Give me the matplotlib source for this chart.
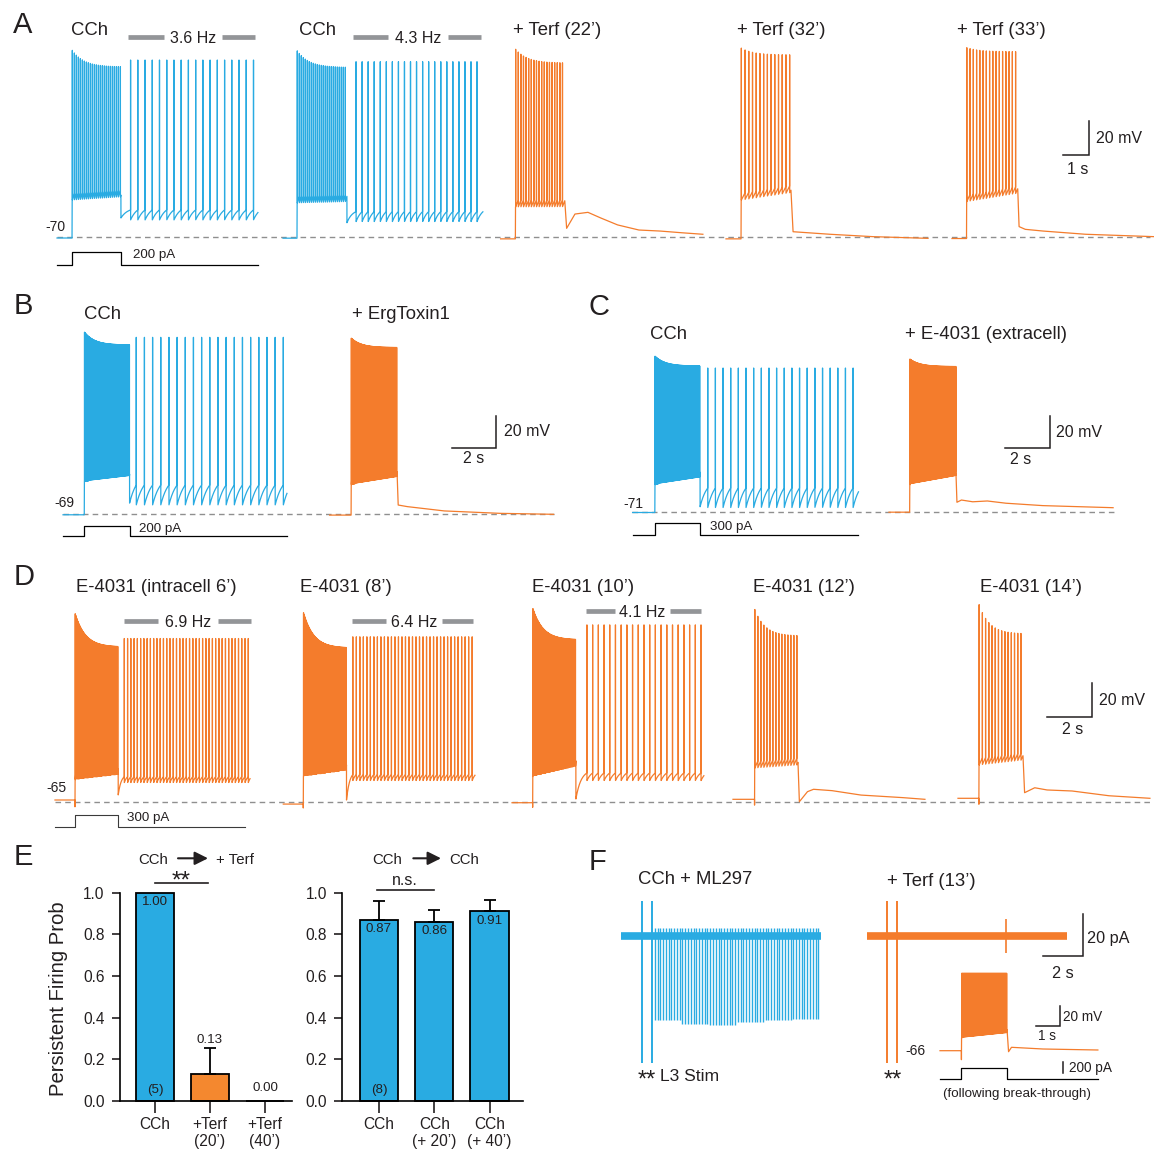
import numpy as np
import matplotlib.pyplot as plt

plt.rcParams['font.family'] = ['Liberation Sans', 'DejaVu Sans']

W, H = 1154, 1158
BLUE = '#29abe2'
ORANGE = '#f47c2c'
BAR_ORANGE = '#f4882f'
HZ_GRAY = '#939598'
DASH_GRAY = '#8f8f8f'
INK = '#231f20'
DT = 0.002

# ---------------- values ----------------
# times in s from the start of each sweep, voltages in mV, currents in pA
# Panel A
a_titles = ['CCh', 'CCh', '+ Terf (22’)', '+ Terf (32’)', '+ Terf (33’)']
a_colors = [BLUE, BLUE, ORANGE, ORANGE, ORANGE]
a_dur = [7.73, 7.69, 7.78, 7.77, 7.76]
a_on = [0.58, 0.54, 0.57, 0.58, 0.56]
a_off = [2.46, 2.46, 2.47, 2.50, 2.53]
a_rest = [-70.3, -70.4, -70.8, -70.8, -70.6]
a_plat = [(-48, -46.2), (-49.7, -49), (-52, -51.9), (-48, -43.6), (-48.9, -44)]
a_peak = [(40.3, 30.3), (40, 30), (40.9, 32.6), (41.5, 37.4), (41.7, 39.3)]
a_rate = [13, 13, 10, 7, 8]
a_persist = [(2.83, 18, 0.278, -58.5, -59.7, -53.8, 34.4),
             (2.81, 21, 0.2326, -61.3, -60.7, -54.8, 33.4), None, None, None]
a_tail = [None, None,
          [(2.54, -64.6), (2.86, -56.2), (3.36, -55.2), (3.85, -58.5), (4.50, -62.6),
           (5.32, -65.6), (6.13, -66.2), (6.96, -67.2), (7.78, -68.1)],
          [(2.58, -66.6), (4.0, -68.1), (5.65, -69.5), (7.77, -70.5)],
          [(2.58, -63.6), (2.82, -65.2), (3.5, -66.2), (5.14, -68.1), (7.76, -69.5)]]
a_hz = ['3.6 Hz', '4.3 Hz']
a_cmd = 200

# Panel B
b_titles = ['CCh', '+ ErgToxin1']
b_colors = [BLUE, ORANGE]
b_dur = [10.09, 10.09]
b_on = [0.96, 0.97]
b_off = [3.0, 3.04]
b_rest = [-69.3, -69.5]
b_plat = [(-48.8, -45.5), (-50.7, -46.1)]
b_peak = [(45, 36.8), (41.2, 35.2)]
b_rate = [50, 50]
b_persist = [(3.3, 19, 0.368, -62, -63.2, -50.7, 41.6), None]
b_tail = [None, [(3.09, -63.2), (3.5, -64.2), (5.17, -66.9), (7.68, -68.4), (10.09, -69.0)]]
b_cmd = 200

# Panel C
c_titles = ['CCh', '+ E-4031 (extracell)']
c_colors = [BLUE, ORANGE]
c_dur = [10.04, 9.96]
c_on = [0.99, 0.92]
c_off = [3.0, 2.98]
c_rest = [-71.5, -71.3]
c_plat = [(-54.3, -50), (-54.3, -49.1)]
c_peak = [(26.3, 20), (24.5, 19.7)]
c_rate = [50, 50]
c_persist = [(3.34, 20, 0.34, -67.9, -68.5, -56.2, 18.8), None]
c_tail = [None, [(3.02, -65.1), (3.22, -63.7), (3.72, -64.8), (4.37, -64.3), (5.2, -65.7),
                 (6.84, -67.2), (8.49, -67.9), (9.96, -68.5)]]
c_cmd = 300

# Panel D
d_titles = ['E-4031 (intracell 6’)', 'E-4031 (8’)', 'E-4031 (10’)', 'E-4031 (12’)', 'E-4031 (14’)']
d_dur = [8.67, 8.52, 8.53, 8.53, 8.53]
d_on = [0.89, 0.89, 0.92, 0.96, 0.93]
d_off = [2.81, 2.81, 2.84, 2.89, 2.89]
d_rest = [-64, -66.4, -65.6, -63.6, -63]
d_dip = [-68, -68.7, -68.3, -67, -66.5]
d_plat = [(-52.2, -49.3), (-50.3, -46.8), (-50.3, -44.4), (-45.2, -43.4), (-43.4, -40.5)]
d_peak = [(46, 26), (46.6, 25.4), (49, 30.2), (48.4, 32.5), (51.3, 33.7)]
d_rate = [45, 45, 45, 7.5, 7]
d_persist = [(3.08, 39, 0.145, -61, -53.8, -50.3, 31),
             (3.09, 35, 0.156, -64, -52.6, -49, 32),
             (3.33, 21, 0.2535, -63.4, -52.6, -48.1, 39), None, None]
d_tail = [None, None, None,
          [(2.95, -65), (3.31, -59.1), (3.58, -57.7), (4.4, -58.5), (5.69, -61.1), (7.54, -62.6), (8.53, -63.6)],
          [(2.96, -59.7), (3.41, -56.8), (3.96, -58.1), (5.07, -58.7), (6.71, -61.5), (8.53, -63.0)]]
d_hz = ['6.9 Hz', '6.4 Hz', '4.1 Hz']
d_cmd = 300

# Panel E
e1_labels = ['CCh', '+Terf\n(20’)', '+Terf\n(40’)']
e1_vals = [1.00, 0.13, 0.00]
e1_err = [0.0, 0.125, 0.0]
e1_colors = [BLUE, BAR_ORANGE, BAR_ORANGE]
e2_labels = ['CCh', 'CCh\n(+ 20’)', 'CCh\n(+ 40’)']
e2_vals = [0.87, 0.86, 0.91]
e2_err = [0.09, 0.055, 0.055]
e2_colors = [BLUE, BLUE, BLUE]

# Panel F (voltage clamp, pA)
f1_dur = 10.14
f1_stim = [1.066, 1.556]
f1_first, f1_n, f1_isi = 1.72, 60, 0.14
f1_amp = [-40, -42, -42.5, -41, -40, -39.5]   # per group of 10 spikes
f1_up = 4
f2_dur = 10.1
f2_stim = [1.03, 1.5]
f2_event = (7.02, 8, -8)
stim_range = (16.7, -60.5)
# inset (current clamp after break-through)
i_dur, i_on, i_off = 6.47, 0.88, 2.75
i_rest, i_dip = -66, -75
i_plat = (-53.3, -48.6)
i_peak = (11.4, 11.4)
i_rate = 50
i_tail = [(2.81, -67), (2.93, -62.6), (4.22, -64.3), (6.47, -65.3)]
i_cmd = 200

# ---------------- layout (pixels) ----------------
# row: (top, bottom, px per s, px per unit, baseline px, baseline value)
row_a = (40, 245, 26.0, 1.7, 237.5, -70)
cmd_a = (244, 272, 26.0, 0.065, 265, 0)
a_x = [57, 283, 500.6, 726, 952]
row_b = (320, 520, 22.2, 1.6, 514.3, -69)
cmd_b = (518, 540, 22.2, 0.05, 535.7, 0)
b_x = [63, 329.6]
row_c = (340, 518, 22.5, 1.6, 511.7, -71)
cmd_c = (518, 540, 22.5, 0.039, 535, 0)
c_x = [632.6, 889]
row_d = (595, 812, 22.5, 1.7, 801.7, -65)
cmd_d = (810, 832, 22.5, 0.039, 826.7, 0)
d_x = [55, 283.3, 512, 733, 958]
row_f = (890, 1070, 19.8, 2.1, 936, 0)
f_x = [620.7, 867]
row_i = (965, 1062, 24.4, 1.0, 1050.7, -66)
cmd_i = (1058, 1085, 24.4, 0.058, 1079.3, 0)
i_x = 940

fig = plt.figure(figsize=(W / 100, H / 100), dpi=100)


def row_axes(top, bottom, px_s, px_u, base_y, base_v):
    ax = fig.add_axes([0, 1 - bottom / H, 1, (bottom - top) / H])
    ax.set_axis_off()
    ax.set_xlim(0, W / px_s)
    ax.set_ylim(base_v - (bottom - base_y) / px_u, base_v + (base_y - top) / px_u)
    return ax


def to_data(lay, x, y):
    return x / lay[2], lay[5] + (lay[4] - y) / lay[3]


def vm_trace(dur, on, off, rest, plat, peak, rate, persist=None, tail=None, dip=None):
    t = np.arange(0.0, dur, DT)
    v = np.full(t.size, float(rest))
    step = (t >= on) & (t < off)
    st = np.arange(on + 0.01, off - 0.005, 1.0 / rate)
    ts = t[step]
    last = st[np.clip(np.searchsorted(st, ts, side='right') - 1, 0, None)]
    ramp = np.clip((ts - last) * rate, 0, 1) * 4.0
    v[step] = np.linspace(plat[0], plat[1], step.sum()) + ramp
    if dip is not None:
        v[np.searchsorted(t, on) - 1] = dip
    v[np.searchsorted(t, st)] = peak[1] + (peak[0] - peak[1]) * np.exp(-(st - on) / 0.45)
    if persist is not None:
        first, n, isi, dip2, trough, pre, top = persist
        sp = first + isi * np.arange(n)
        ev = np.concatenate([[off], sp])
        post = t >= off
        tp = t[post]
        k = np.searchsorted(ev, tp, side='right') - 1
        s = tp - ev[k]
        nxt = np.where(k + 1 < ev.size, ev[np.minimum(k + 1, ev.size - 1)], ev[k] + isi)
        tau = 0.9 * isi
        shape = np.clip((1 - np.exp(-s / tau)) / (1 - np.exp(-(nxt - ev[k]) / tau)), 0, 1)
        low = np.where(k == 0, dip2, trough)
        v[post] = low + (pre - low) * shape
        v[np.searchsorted(t, sp)] = top
        return t, v
    if tail is not None:
        keep = t < off
        tt = np.array([p[0] for p in tail])
        vv = np.array([p[1] for p in tail])
        return np.concatenate([t[keep], tt]), np.concatenate([v[keep], vv])
    return t, v


def draw_row(lay, xs, colors, durs, ons, offs, rests, plats, peaks, rates, persists, tails, dips=None):
    ax = row_axes(*lay)
    for i in range(len(xs)):
        t, v = vm_trace(durs[i], ons[i], offs[i], rests[i], plats[i], peaks[i], rates[i],
                        persists[i], tails[i], None if dips is None else dips[i])
        ax.plot(t + xs[i] / lay[2], v, color=colors[i], lw=0.9, clip_on=False)
    return ax


def dashed(ax, lay, x0, x1):
    ax.hlines(lay[5], x0 / lay[2], x1 / lay[2], colors=DASH_GRAY, lw=1.0,
              linestyles=(0, (4, 3)), zorder=0)


def command(lay, x, dur, on, off, amp, color='k', lw=0.9):
    ax = row_axes(*lay)
    t = x / lay[2] + np.array([0, on, on, off, off, dur])
    ax.plot(t, [0, 0, amp, amp, 0, 0], color=color, lw=lw, clip_on=False)
    return ax


def scalebar(ax, lay, x, y, sx, sy):
    xd, yd = to_data(lay, x, y)
    ax.plot([xd - sx, xd, xd], [yd, yd, yd + sy], color=INK, lw=1.1, clip_on=False,
            solid_joinstyle='miter')


ov = fig.add_axes([0, 0, 1, 1], zorder=10)
ov.set_xlim(0, W)
ov.set_ylim(H, 0)
ov.axis('off')


def txt(x, y, s, size=13.3, ha='left', **kw):
    ov.text(x, y, s, fontsize=size, ha=ha, va='baseline', color=INK, **kw)


def hzbar(x0, x1, x2, x3, y, label, size=11.5):
    for a, b in ((x0, x1), (x2, x3)):
        ov.plot([a, b], [y, y], color=HZ_GRAY, lw=3.4, solid_capstyle='butt')
    ov.text((x1 + x2) / 2, y, label, fontsize=size, ha='center', va='center_baseline', color=INK)


# ---------------- panel A ----------------
ax = draw_row(row_a, a_x, a_colors, a_dur, a_on, a_off, a_rest, a_plat, a_peak, a_rate, a_persist, a_tail)
dashed(ax, row_a, 57, 1150)
scalebar(ax, row_a, 1089, 155, 1, 20)
command(cmd_a, a_x[0], a_dur[0], a_on[0], a_off[0], a_cmd)
txt(13, 33, 'A', 21)
for x, s in zip([71, 299, 512.6, 736.8, 956.8], a_titles):
    txt(x, 35, s)
hzbar(128, 164, 222, 255, 37.3, a_hz[0])
hzbar(353, 388, 448, 481, 37.3, a_hz[1])
txt(65, 231, '-70', 10, ha='right')
txt(133, 258, f'{a_cmd} pA', 9.6)
txt(1096, 143, '20 mV', 11.5)
txt(1078, 174, '1 s', 11.5, ha='center')

# ---------------- panel B ----------------
ax = draw_row(row_b, b_x, b_colors, b_dur, b_on, b_off, b_rest, b_plat, b_peak, b_rate, b_persist, b_tail)
dashed(ax, row_b, 63, 554)
scalebar(ax, row_b, 496.3, 447.7, 2, 20)
command(cmd_b, b_x[0], b_dur[0], b_on[0], b_off[0], b_cmd)
txt(14, 314, 'B', 21)
txt(84.4, 319, b_titles[0])
txt(351.9, 319, b_titles[1])
txt(74, 507, '-69', 10, ha='right')
txt(139.3, 532, f'{b_cmd} pA', 9.6)
txt(503.7, 436, '20 mV', 11.5)
txt(473.3, 463, '2 s', 11.5, ha='center')

# ---------------- panel C ----------------
ax = draw_row(row_c, c_x, c_colors, c_dur, c_on, c_off, c_rest, c_plat, c_peak, c_rate, c_persist, c_tail)
dashed(ax, row_c, 632, 1115)
scalebar(ax, row_c, 1050, 448.3, 2, 20)
command(cmd_c, c_x[0], c_dur[0], c_on[0], c_off[0], c_cmd)
txt(589, 315, 'C', 21)
txt(650.4, 339, c_titles[0])
txt(905.2, 339, c_titles[1])
txt(643, 507.5, '-71', 10, ha='right')
txt(710.4, 530, f'{c_cmd} pA', 9.6)
txt(1056, 437, '20 mV', 11.5)
txt(1021, 464, '2 s', 11.5, ha='center')

# ---------------- panel D ----------------
d_colors = [ORANGE] * 5
ax = draw_row(row_d, d_x, d_colors, d_dur, d_on, d_off, d_rest, d_plat, d_peak, d_rate, d_persist, d_tail, d_dip)
dashed(ax, row_d, 55, 1150)
scalebar(ax, row_d, 1092, 716.7, 2, 20)
command(cmd_d, d_x[0], d_dur[0] - 0.22, d_on[0], d_off[0], d_cmd, color='#3a3a3a', lw=0.8)
txt(14, 585, 'D', 21)
for x, s in zip([76, 300, 531.5, 753, 979.8], d_titles):
    txt(x, 592, s)
hzbar(124, 158, 218, 251, 621, d_hz[0])
hzbar(352, 386, 441.7, 472.7, 620.7, d_hz[1])
hzbar(585.6, 615, 670, 701, 611, d_hz[2])
txt(66.7, 792.5, '-65', 10, ha='right')
txt(126.7, 821.5, f'{d_cmd} pA', 9.6)
txt(1098.8, 705, '20 mV', 11.5)
txt(1072.8, 733.5, '2 s', 11.5, ha='center')


# ---------------- panel E ----------------
def bar_panel(rect, xlim, labels, vals, errs, colors, val_y, nlabel):
    x0, y0, x1, y1 = rect
    ax = fig.add_axes([x0 / W, 1 - y1 / H, (x1 - x0) / W, (y1 - y0) / H])
    pos = np.arange(len(vals))
    ax.bar(pos, vals, width=0.69, color=colors, edgecolor='k', linewidth=1.3, clip_on=False, zorder=2)
    e = np.array(errs)
    m = e > 0
    ax.errorbar(pos[m], np.array(vals)[m], yerr=[np.zeros(m.sum()), e[m]], fmt='none', ecolor='k',
                elinewidth=1.3, capsize=4.6, capthick=1.3, clip_on=False, zorder=3)
    ax.set_xlim(*xlim)
    ax.set_ylim(0, 1.0)
    ax.set_yticks(np.arange(0, 1.01, 0.2))
    ax.yaxis.set_major_formatter('{x:.1f}')
    ax.set_xticks(pos)
    ax.set_xticklabels(labels)
    for s in ('top', 'right'):
        ax.spines[s].set_visible(False)
    for s in ('left', 'bottom'):
        ax.spines[s].set_linewidth(1.2)
    ax.tick_params(axis='y', length=6, width=1.2, pad=5, labelsize=11.2, colors=INK)
    ax.tick_params(axis='x', length=8.4, width=1.2, pad=3, labelsize=11.2, colors=INK)
    for p, v, y in zip(pos, vals, val_y):
        ax.text(p, y, f'{v:.2f}', ha='center', va='center', fontsize=9.6, color=INK)
    ax.text(0, 0.053, nlabel, ha='center', va='center', fontsize=9.6, color=INK)
    ax.patch.set_alpha(0)
    return ax


e1 = bar_panel((120, 892.7, 292, 1101), (-0.636, 2.49), e1_labels, e1_vals, e1_err, e1_colors,
               [0.953, 0.293, 0.064], '(5)')
e1.plot([0, 0.96], [1.048, 1.048], color=INK, lw=1.2, clip_on=False)
e2 = bar_panel((342.3, 892.7, 522.7, 1101), (-0.664, 2.6), e2_labels, e2_vals, e2_err, e2_colors,
               [0.824, 0.818, 0.864], '(8)')
e2.plot([-0.04, 1.0], [1.013, 1.013], color=INK, lw=1.2, clip_on=False)
e2.text(0.47, 1.035, 'n.s.', ha='center', va='baseline', fontsize=11.5, color=INK)

txt(14, 865, 'E', 21)
txt(181.5, 888, '**', 17.5, ha='center')
ov.text(58, 999, 'Persistent Firing Prob', rotation=90, fontsize=14.6, ha='center', va='center', color=INK)
for xa, xb, xc, right in ((138, 178, 208, '+ Terf'), (372.7, 413.3, 441, 'CCh')):
    txt(xa, 864, 'CCh', 10.8)
    ov.annotate('', xy=(xc, 858.3), xytext=(xb, 858.3),
                arrowprops=dict(arrowstyle='-|>', color=INK, lw=1.5, mutation_scale=20, shrinkA=0, shrinkB=0))
    txt(xc + 8, 864, right, 10.8)

# ---------------- panel F ----------------
ax = row_axes(*row_f)
t1 = f_x[0] / row_f[2]
t2 = f_x[1] / row_f[2]
ax.plot([t1, t1 + f1_dur], [0, 0], color=BLUE, lw=5.5, solid_capstyle='butt')
sp = t1 + f1_first + f1_isi * np.arange(f1_n)
ax.vlines(sp, np.repeat(f1_amp, 10)[:f1_n], f1_up, colors=BLUE, lw=1.0)
ax.vlines(t1 + np.array(f1_stim), stim_range[1], stim_range[0], colors=BLUE, lw=1.4)
ax.plot([t2, t2 + f2_dur], [0, 0], color=ORANGE, lw=5.5, solid_capstyle='butt')
ax.vlines(t2 + np.array(f2_stim), stim_range[1], stim_range[0], colors=ORANGE, lw=1.4)
ax.vlines(t2 + f2_event[0], f2_event[2], f2_event[1], colors=ORANGE, lw=1.2)
scalebar(ax, row_f, 1082.6, 956, 2, 20)

axi = row_axes(*row_i)
t, v = vm_trace(i_dur, i_on, i_off, i_rest, i_plat, i_peak, i_rate, None, i_tail, i_dip)
axi.plot(t + i_x / row_i[2], v, color=ORANGE, lw=0.9, clip_on=False)
scalebar(axi, row_i, 1060.4, 1026, 1, 20)
axc = command(cmd_i, i_x, i_dur, i_on, i_off, i_cmd)
xb, yb = to_data(cmd_i, 1063.3, 1073.3)
axc.plot([xb, xb], [yb, yb + i_cmd], color=INK, lw=1.1, clip_on=False)

txt(589, 870, 'F', 21)
txt(638, 884, 'CCh + ML297')
txt(886.7, 886, '+ Terf (13’)')
txt(646.5, 1087, '**', 17, ha='center')
txt(660.5, 1081, 'L3 Stim', 12.6)
txt(893, 1087, '**', 17, ha='center')
txt(1087, 943.5, '20 pA', 11.7)
txt(1063, 978.5, '2 s', 11.7, ha='center')
txt(925, 1055, '-66', 10, ha='right')
txt(1063.3, 1021, '20 mV', 9.8)
txt(1047.4, 1040, '1 s', 9.8, ha='center')
txt(1068.9, 1072.3, f'{i_cmd} pA', 9.8)
txt(1017, 1096.7, '(following break-through)', 9.6, ha='center')

fig.savefig('out.png', dpi=100)
